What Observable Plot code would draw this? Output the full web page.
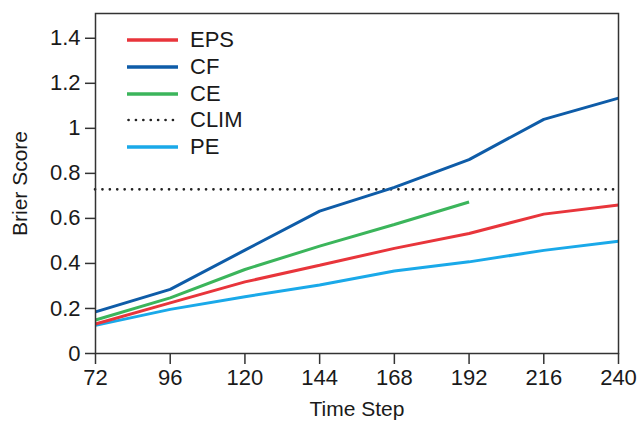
<!DOCTYPE html>
<html>
<head>
<meta charset="utf-8">
<script src="https://cdn.jsdelivr.net/npm/d3@7"></script>
<script src="https://cdn.jsdelivr.net/npm/@observablehq/plot@0.6"></script>
<style>
  html, body { margin: 0; padding: 0; background: #fff; }
  #wrap { position: relative; width: 639px; height: 421px; font-family: "Liberation Sans", Arial, sans-serif; }
  #legend { position: absolute; left: 127px; top: 27px; font-size: 22px; color: #1a1a1a; }
  #legend .row { display: flex; align-items: center; height: 26.7px; }
  #legend .row span { margin-left: 12px; line-height: 1; }
  svg g[aria-label="x-axis label"] text, svg g[aria-label="y-axis label"] text { font-size: 21px; }
</style>
</head>
<body>
<div id="wrap"><div id="legend"></div></div>
<script>
const steps = [72, 96, 120, 144, 168, 192, 216, 240];
const epsValues = [0.131, 0.225, 0.318, 0.392, 0.467, 0.533, 0.619, 0.660];
const cfValues = [0.185, 0.285, 0.459, 0.632, 0.738, 0.861, 1.040, 1.134];
const ceValues = [0.149, 0.247, 0.373, 0.477, 0.573, 0.673];
const peValues = [0.125, 0.196, 0.252, 0.304, 0.366, 0.407, 0.458, 0.499];
const climValue = 0.729;
const xTicks = [72, 96, 120, 144, 168, 192, 216, 240];
const yTicks = [0, 0.2, 0.4, 0.6, 0.8, 1, 1.2, 1.4];
const seriesNames = ["EPS", "CF", "CE", "CLIM", "PE"];
const colors = {EPS: "#e8353b", CF: "#0e5ca8", CE: "#3bb55b", CLIM: "#222", PE: "#1aa9e9"};

const rows = [];
const add = (name, vals) => vals.forEach((v, i) => rows.push({series: name, step: steps[i], value: v}));
add("PE", peValues);
add("EPS", epsValues);
add("CE", ceValues);
add("CF", cfValues);

const lineMarks = ["PE", "EPS", "CE", "CF"].map(name =>
  Plot.line(rows.filter(d => d.series === name), {
    x: "step", y: "value", stroke: colors[name], strokeWidth: 3, strokeLinejoin: "miter", strokeLinecap: "butt"
  })
);

const chart = Plot.plot({
  width: 639,
  height: 421,
  marginLeft: 95,
  marginRight: 21,
  marginTop: 13,
  marginBottom: 68,
  style: {fontFamily: "Liberation Sans, Arial, sans-serif", fontSize: "22px", color: "#1a1a1a", background: "transparent"},
  x: {domain: [72, 240]},
  y: {domain: [0, 1.51]},
  marks: [
    Plot.ruleY([climValue], {stroke: colors.CLIM, strokeWidth: 2.6, strokeDasharray: "0.1,7.3", strokeLinecap: "round"}),
    ...lineMarks,
    Plot.frame({stroke: "#333", strokeWidth: 1.5}),
    Plot.axisX({ticks: xTicks, tickSize: 11, tickPadding: 5, tickFormat: d => String(d), stroke: "#333", strokeWidth: 1.5,
      label: "Time Step", labelAnchor: "center", labelArrow: "none", labelOffset: 62}),
    Plot.axisY({ticks: yTicks, tickSize: 10, tickPadding: 5, tickFormat: d => String(d), stroke: "#333", strokeWidth: 1.5,
      label: "Brier Score", labelAnchor: "center", labelArrow: "none", labelOffset: 83})
  ]
});
document.getElementById("wrap").prepend(chart);

const legend = document.getElementById("legend");
seriesNames.forEach(name => {
  const row = document.createElement("div");
  row.className = "row";
  const dashed = name === "CLIM";
  row.innerHTML = `<svg width="51" height="6"><line x1="${dashed ? 1.5 : 0}" x2="51" y1="3" y2="3" stroke="${colors[name]}" stroke-width="${dashed ? 2.6 : 3.5}" ${dashed ? 'stroke-dasharray="0.1,7.3" stroke-linecap="round"' : ''}/></svg><span>${name}</span>`;
  legend.appendChild(row);
});
</script>
</body>
</html>
